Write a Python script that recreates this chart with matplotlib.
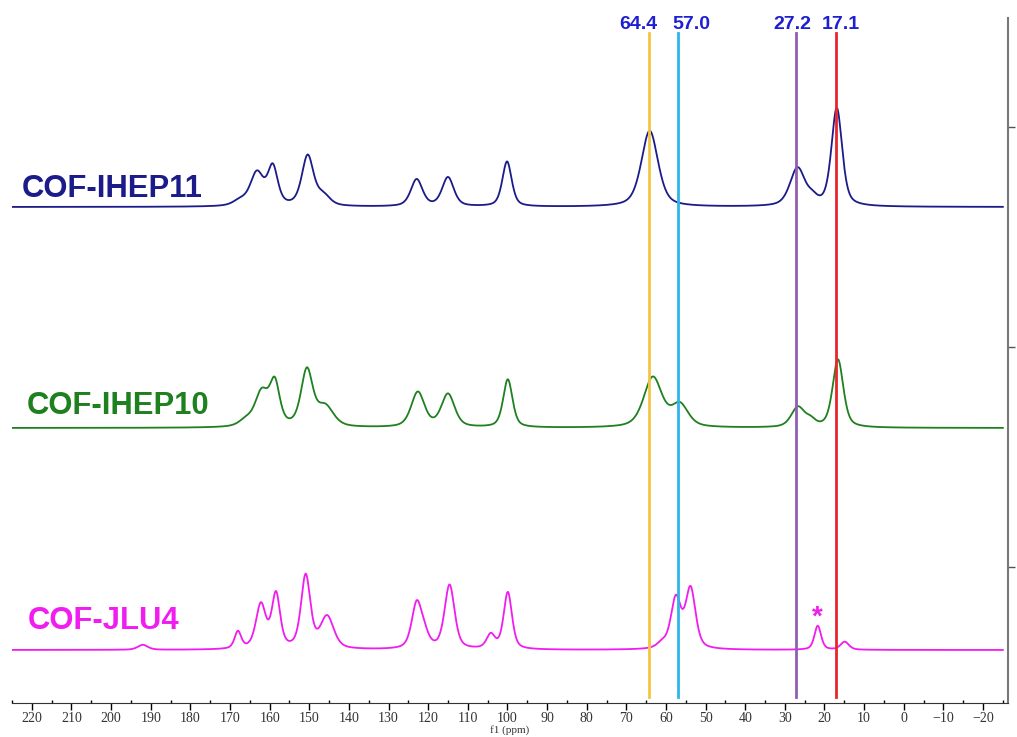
import numpy as np
import matplotlib.pyplot as plt

# peak tables: centre (ppm), height above baseline, FWHM (ppm)
ihep11_pos = [167.5, 163.2, 159.2, 150.4, 146.5, 122.9, 115.0, 100.1, 64.1, 26.8, 23.0, 16.9]
ihep11_amp = [5, 33, 38, 50, 10, 27, 29, 45, 76, 38, 6, 98]
ihep11_fwhm = [4, 4.0, 3.0, 3.5, 4, 3.5, 3.5, 2.8, 5.0, 4.5, 3, 3.2]

ihep10_pos = [166.0, 162.0, 158.7, 150.6, 146.0, 122.6, 115.0, 99.9, 63.3, 56.5, 26.7, 23.5, 16.6]
ihep10_amp = [6, 34, 42, 56, 20, 35, 33, 48, 50, 22, 20, 6, 68]
ihep10_fwhm = [4, 4.0, 3.0, 3.5, 5, 4.0, 4.0, 2.8, 5.5, 5, 4, 3, 3.2]

jlu4_pos = [192.0, 168.0, 162.2, 158.4, 150.9, 145.5, 122.9, 121.0, 114.6, 104.2, 99.9,
            61.0, 57.5, 53.8, 21.7, 14.9]
jlu4_amp = [5, 17, 44, 54, 73, 32, 44, 12, 64, 14, 57, 5, 50, 60, 24, 8]
jlu4_fwhm = [3, 2, 3.0, 2.5, 2.8, 4, 3.0, 3, 3.0, 2.5, 2.5, 3, 3.0, 3.0, 2.0, 2.5]

names = ["COF-IHEP11", "COF-IHEP10", "COF-JLU4"]
colors = ["#1b1b8a", "#1f801f", "#f01cf0"]
offsets = [443, 222, 0]
label_x = [222.5, 221.3, 221.0]
label_dy = [18, 22, 29]

marks = [64.4, 57.0, 27.2, 17.1]
mark_colors = ["#f4c542", "#2bb5e8", "#8e5fb0", "#e8262a"]
mark_label_x = [67.1, 53.5, 28.0, 15.9]

star_ppm, star_y = 21.9, 32


def spectrum(x, pos, amp, fwhm, eta=0.5):
    y = np.zeros_like(x)
    for c, h, w in zip(pos, amp, fwhm):
        hw = w / 2.0
        d2 = (x - c) ** 2 / hw ** 2
        y += h * (eta / (1 + d2) + (1 - eta) * np.exp(-np.log(2) * d2))
    return y


x = np.linspace(225, -25, 3000)
tables = [(ihep11_pos, ihep11_amp, ihep11_fwhm),
          (ihep10_pos, ihep10_amp, ihep10_fwhm),
          (jlu4_pos, jlu4_amp, jlu4_fwhm)]

fig = plt.figure(figsize=(10.17, 7.37), dpi=100)
ax = fig.add_axes([12 / 1017, 1 - 703 / 737, 996 / 1017, 685 / 737])

for (pos, amp, fwhm), name, col, off, lx, dy in zip(tables, names, colors, offsets,
                                                    label_x, label_dy):
    ax.plot(x, off + spectrum(x, pos, amp, fwhm), color=col, lw=1.3, zorder=3)
    ax.text(lx, off + dy, name, color=col, fontsize=22.3, fontweight="bold",
            family="Liberation Sans", ha="left", va="center")

for ppm, col, lx in zip(marks, mark_colors, mark_label_x):
    ax.axvline(ppm, ymin=0.009, ymax=0.978, color=col, lw=2, zorder=4)
    ax.text(lx, 0.991, f"{ppm:.1f}", transform=ax.get_xaxis_transform(),
            color="#1e1ed2", fontsize=14, fontweight="bold", family="Liberation Sans",
            ha="center", va="center", clip_on=False)

ax.text(star_ppm, star_y, "*", color=colors[2], fontsize=20, fontweight="bold",
        family="Liberation Sans", ha="center", va="center")

ax.set_xlim(225, -26.3)
ax.set_ylim(-53, 632)

ax.set_xticks(np.arange(220, -21, -10))
ax.set_xticks(np.arange(225, -26, -5), minor=True)
ax.tick_params(axis="x", which="major", direction="out", length=5, width=1,
               pad=1.5, labelsize=10, labelcolor="#333333")
ax.tick_params(axis="x", which="minor", direction="in", length=2.5, width=1)
for lab in ax.get_xticklabels():
    lab.set_family("Liberation Serif")
ax.set_xlabel("f1 (ppm)", fontsize=8, family="Liberation Serif", labelpad=0, color="#333333")

ax.yaxis.tick_right()
ax.set_yticks([83, 303, 523])
ax.tick_params(axis="y", direction="out", length=5, width=1, labelright=False, color="#555555")

for side in ["top", "left"]:
    ax.spines[side].set_visible(False)
ax.spines["right"].set_color("#777777")
ax.spines["right"].set_linewidth(1.5)
ax.spines["bottom"].set_color("#333333")

fig.savefig("out.png", dpi=100)
